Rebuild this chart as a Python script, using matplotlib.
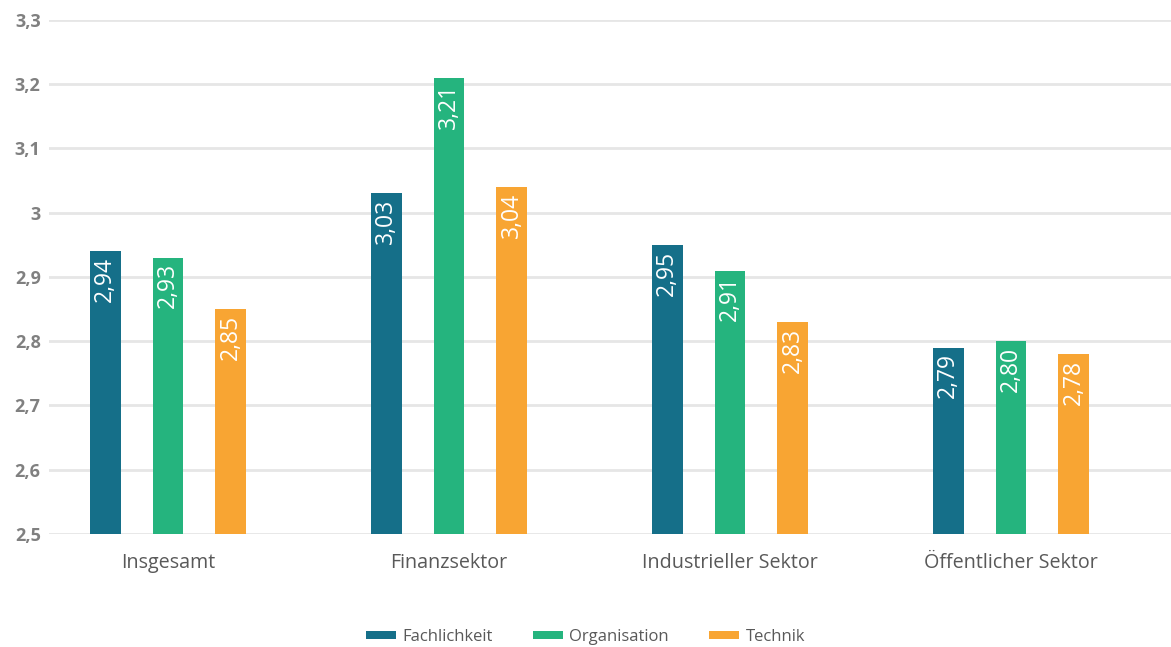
import numpy as np
import matplotlib.pyplot as plt
from matplotlib.patches import Patch

# Values per sector and dimension
categories = ['Insgesamt', 'Finanzsektor', 'Industrieller Sektor', 'Öffentlicher Sektor']
series_names = ['Fachlichkeit', 'Organisation', 'Technik']
fachlichkeit = [2.94, 3.03, 2.95, 2.79]
organisation = [2.93, 3.21, 2.91, 2.80]
technik = [2.85, 3.04, 2.83, 2.78]
y_ticks = [2.5, 2.6, 2.7, 2.8, 2.9, 3.0, 3.1, 3.2, 3.3]
y_tick_labels = ['2,5', '2,6', '2,7', '2,8', '2,9', '3', '3,1', '3,2', '3,3']

colors = ['#156f89', '#25b47e', '#f8a533']
plt.rcParams['font.family'] = ['Open Sans', 'DejaVu Sans']

fig = plt.figure(figsize=(11.71, 6.47), dpi=100)
ax = fig.add_axes([49 / 1171, (647 - 534) / 647, 1 - 49 / 1171, (534 - 20) / 647])

x = np.arange(len(categories))
offset = 0.224
width = 0.11
bottom = 2.5
for i, (vals, name) in enumerate(zip([fachlichkeit, organisation, technik], series_names)):
    xs = x + (i - 1) * offset
    heights = [v - bottom for v in vals]
    ax.bar(xs, heights, width=width, bottom=bottom, color=colors[i], zorder=3)
    for xi, v in zip(xs, vals):
        ax.annotate(f'{v:.2f}'.replace('.', ','), xy=(xi, v), xytext=(0, -4),
                    textcoords='offset points', rotation=90, ha='center', va='top',
                    color='white', fontsize=16.5, zorder=4)

ax.set_xlim((49 - 168) / 281, (1171 - 168) / 281)
ax.set_ylim(2.5, 3.3)
ax.set_yticks(y_ticks)
ax.set_yticklabels(y_tick_labels, fontsize=13, fontweight='bold', color='#808080')
ax.set_xticks(x)
ax.set_xticklabels(categories, fontsize=14.2, color='#595959')
ax.tick_params(axis='both', length=0)
ax.tick_params(axis='y', pad=6)
ax.tick_params(axis='x', pad=14)
ax.grid(axis='y', color='#e6e6e6', linewidth=2, zorder=0)
for s in ax.spines.values():
    s.set_visible(False)

handles = [Patch(facecolor=c, label=n) for c, n in zip(colors, series_names)]
fig.legend(handles=handles, loc='lower center', bbox_to_anchor=(0.5, -0.02), ncol=3,
           frameon=False, fontsize=12, handlelength=1.8, handleheight=0.45,
           handletextpad=0.4, columnspacing=2.4, labelcolor='#595959')

fig.savefig('out.png', dpi=100)
plt.close('all')
